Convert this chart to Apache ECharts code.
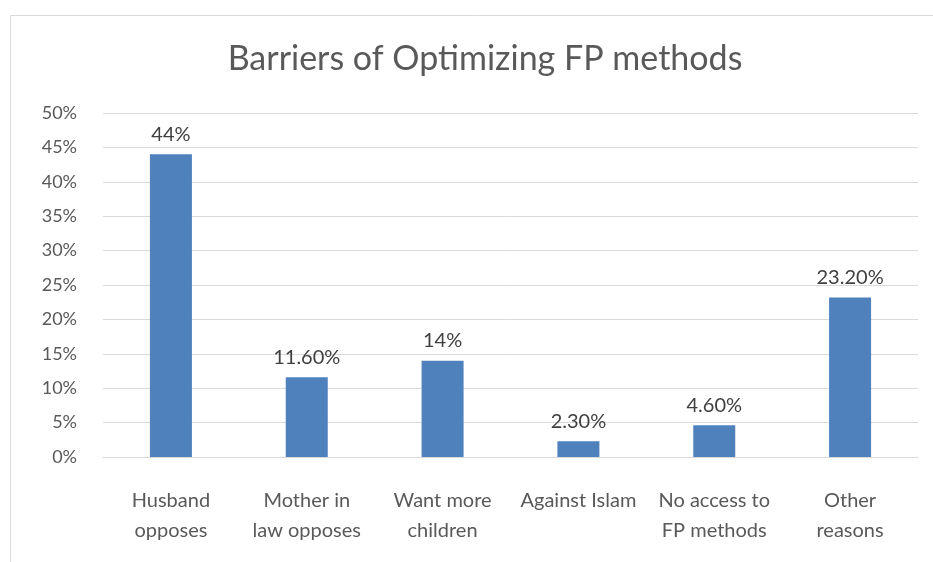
<!DOCTYPE html>
<html><head><meta charset="utf-8">
<script src="https://cdn.jsdelivr.net/npm/echarts@6/dist/echarts.min.js"></script>
<style>html,body{margin:0;padding:0;background:#fff}#c{width:933px;height:562px}</style>
</head><body><div id="c"></div>
<script>
const categories = ["Husband\nopposes", "Mother in\nlaw opposes", "Want more\nchildren", "Against Islam", "No access to\nFP methods", "Other\nreasons"];
const values = [44, 11.6, 14, 2.3, 4.6, 23.2];
const valueLabels = ["44%", "11.60%", "14%", "2.30%", "4.60%", "23.20%"];
const yTicks = [0, 5, 10, 15, 20, 25, 30, 35, 40, 45, 50];
const title = "Barriers of Optimizing FP methods";

const font = "Lato, 'Open Sans', sans-serif";
const chart = echarts.init(document.getElementById('c'), null, {renderer: 'canvas'});
chart.setOption({
  animation: false,
  backgroundColor: '#fff',
  graphic: [{
    type: 'rect', shape: {x: 10.5, y: 15.5, width: 960, height: 600},
    style: {fill: 'none', stroke: '#d9d9d9', lineWidth: 1}, silent: true, z: -1
  }],
  title: {
    text: title, left: 480, top: 37, textAlign: 'center',
    textStyle: {fontFamily: font, fontSize: 34, fontWeight: 'normal', color: '#595959'}
  },
  grid: {left: 103, right: 15, top: 113, bottom: 105, containLabel: false},
  xAxis: {
    type: 'category', data: categories,
    axisLine: {lineStyle: {color: '#d9d9d9', width: 1}},
    axisTick: {show: false},
    axisLabel: {fontFamily: font, fontSize: 20, color: '#595959', margin: 29, lineHeight: 30, interval: 0}
  },
  yAxis: {
    type: 'value', min: yTicks[0], max: yTicks[yTicks.length - 1], interval: 5,
    axisLine: {show: false}, axisTick: {show: false},
    splitLine: {lineStyle: {color: '#d9d9d9', width: 1}},
    axisLabel: {fontFamily: font, fontSize: 18, color: '#595959', margin: 26, formatter: v => v + '%'}
  },
  series: [{
    type: 'bar', data: values, barWidth: 42,
    itemStyle: {color: '#4F81BD'},
    label: {
      show: true, position: 'top', distance: 10,
      fontFamily: font, fontSize: 20, color: '#404040',
      formatter: p => valueLabels[p.dataIndex]
    }
  }]
});
</script></body></html>
